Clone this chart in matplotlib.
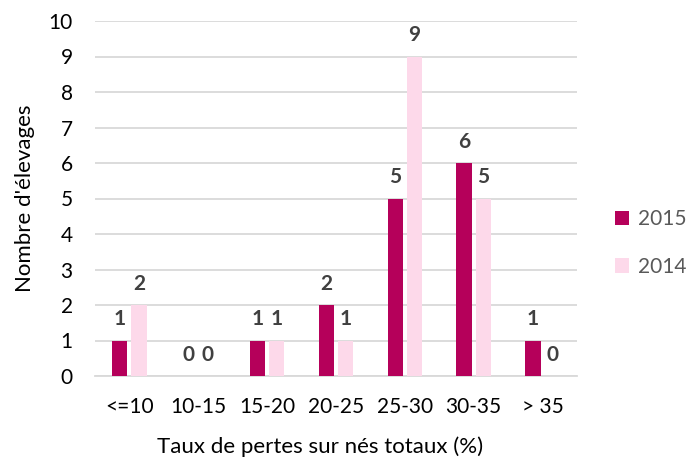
import matplotlib.pyplot as plt
import numpy as np

categories = ['<=10', '10-15', '15-20', '20-25', '25-30', '30-35', '> 35']
elevages_2015 = [1, 0, 1, 2, 5, 6, 1]
elevages_2014 = [2, 0, 1, 1, 9, 5, 0]

col_2015 = '#B5005A'
col_2014 = '#FDD9EA'

plt.rcParams['font.family'] = ['Lato', 'DejaVu Sans']

fig = plt.figure(figsize=(6.99, 4.59), dpi=100)
ax = fig.add_axes([95 / 699, 1 - 376 / 459, (577 - 95) / 699, (376 - 21) / 459])

x = np.arange(len(categories))
w = 0.22
gap = 0.03
b15 = ax.bar(x - w / 2 - gap, elevages_2015, w, color=col_2015, label='2015', zorder=3)
b14 = ax.bar(x + w / 2 + gap, elevages_2014, w, color=col_2014, label='2014', zorder=3)

# value labels above each bar
for bars in (b15, b14):
    for rect in bars:
        h = rect.get_height()
        ax.annotate(f'{int(h)}', (rect.get_x() + rect.get_width() / 2, h),
                    xytext=(0, 8), textcoords='offset points',
                    ha='center', va='bottom', fontsize=15, fontweight='bold', color='#404040')

ax.set_xlim(-0.5, len(categories) - 0.5)
ax.set_ylim(0, 10)
ax.set_yticks(range(0, 11))
ax.set_xticks(x)
ax.set_xticklabels(categories)
ax.tick_params(axis='both', length=0, labelsize=15, colors='#000000')
ax.tick_params(axis='x', pad=15)
ax.tick_params(axis='y', pad=16)
ax.grid(axis='y', color='#D9D9D9', linewidth=1.3, zorder=0)
for s in ('top', 'right', 'left'):
    ax.spines[s].set_visible(False)
ax.spines['bottom'].set_color('#D9D9D9')
ax.spines['bottom'].set_linewidth(1.3)

ax.set_ylabel("Nombre d'élevages", fontsize=16, labelpad=10)
ax.set_xlabel('Taux de pertes sur nés totaux (%)', fontsize=16, labelpad=14)
ax.xaxis.label.set_x(0.467)

leg = fig.legend(handles=[b15, b14], loc='center left', bbox_to_anchor=(596 / 699, 1 - 243 / 459),
                 frameon=False, fontsize=15, handlelength=0.7, handleheight=0.7,
                 handletextpad=0.4, labelspacing=1.3)
for t in leg.get_texts():
    t.set_color('#595959')

fig.savefig('out.png', dpi=100)
